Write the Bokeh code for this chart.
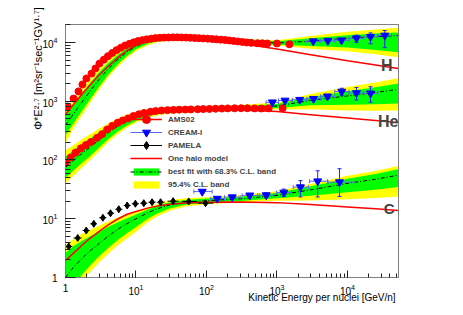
import math
from bokeh.plotting import figure
from bokeh.models import Range1d, LogTickFormatter, Legend, LegendItem, Label
from bokeh.embed import file_html
from bokeh.resources import INLINE

# ---------------- model curves (energy grid, GeV/n) ----------------
E_grid = [1, 1.3, 1.7, 2.2, 3, 4, 5.5, 7.5, 10, 15, 20, 30, 50, 100, 300, 1000, 3000, 1e4, 2.5e4, 5.2e4]

H_fit   = [390, 610, 950, 1450, 2350, 3500, 5100, 6900, 8600, 10500, 11400, 12000, 12100, 11600, 10300, 9800, 10500, 11800, 12600, 13100]
H_g_hi  = [577, 881, 1342, 2001, 3097, 4406, 6130, 8011, 9649, 11508, 12358, 12864, 12971, 12435, 11042, 10506, 11781, 13240, 14200, 14800]
H_g_lo  = [264, 422, 672, 1051, 1783, 2780, 4243, 5943, 7665, 9580, 10517, 11194, 11287, 10821, 9608, 9142, 8735, 8166, 7420, 6795]
H_y_hi  = [710, 1060, 1577, 2298, 3476, 4830, 6722, 8687, 10337, 12190, 12939, 13464, 13419, 12864, 11423, 10868, 12915, 15198, 16607, 17790]
H_y_lo  = [195, 351, 572, 915, 1589, 2536, 3869, 5481, 7155, 9044, 10044, 10695, 10911, 10460, 9288, 8837, 7784, 7108, 6316, 5589]
H_halo  = [600, 880, 1300, 1850, 2800, 3900, 5500, 7300, 8900, 10600, 11400, 11900, 11900, 11400, 9600, 7700, 6200, 4900, 4130, 3600]

He_fit  = [75, 98, 128, 163, 220, 290, 375, 460, 535, 620, 665, 700, 722, 740, 765, 830, 1030, 1230, 1410, 1590]
He_g_hi = [114, 145, 185, 230, 297, 374, 461, 547, 614, 696, 729, 759, 774, 793, 820, 900, 1182, 1478, 1734, 2002]
He_g_lo = [50, 66, 89, 115, 163, 225, 305, 387, 466, 553, 607, 646, 674, 690, 714, 766, 857, 870, 890, 915]
He_y_hi = [146, 178, 222, 271, 341, 419, 506, 592, 658, 737, 772, 795, 810, 830, 858, 953, 1327, 1738, 2085, 2463]
He_y_lo = [40, 54, 74, 98, 142, 201, 278, 357, 435, 521, 573, 617, 643, 660, 682, 723, 729, 692, 690, 694]
He_halo = [85, 112, 145, 185, 245, 310, 390, 470, 540, 615, 655, 690, 710, 720, 710, 665, 590, 520, 470, 435]

C_fit   = [1.0, 1.5, 2.1, 2.8, 3.8, 5.0, 6.6, 8.3, 10, 12.8, 14.8, 17.2, 19, 20.3, 21.8, 25, 31, 40, 47, 55]
C_g_hi  = [2.63, 3.44, 4.19, 4.98, 6.02, 7.23, 8.70, 10.2, 11.75, 14.5, 16.6, 19.1, 20.8, 22.0, 23.6, 27.4, 35.6, 48.1, 57.8, 69.2]
C_g_lo  = [0.447, 0.718, 1.10, 1.57, 2.29, 3.15, 4.36, 5.74, 7.25, 10.2, 12.3, 15.0, 17.3, 18.7, 20.1, 22.3, 24.6, 28.3, 31.0, 34.7]
C_y_hi  = [3.55, 4.53, 5.52, 6.41, 7.58, 8.89, 10.5, 11.7, 12.9, 15.7, 17.8, 20.7, 22.3, 23.3, 25.0, 29.4, 39.0, 54.0, 64.9, 78.6]
C_y_lo  = [0.316, 0.532, 0.836, 1.22, 1.82, 2.51, 3.54, 4.67, 6.02, 8.86, 11.0, 13.7, 16.2, 17.7, 19.0, 20.3, 20.5, 21.5, 22.5, 24.0]
C_halo  = [1.95, 2.6, 3.5, 4.6, 6.1, 7.8, 9.9, 11.9, 13.3, 15.3, 16.4, 17.7, 18.6, 19.1, 19.3, 18.8, 17.5, 15.9, 14.8, 13.8]

# ---------------- AMS02 ----------------
AMS_H_E = [1.07, 1.3, 1.53, 1.74, 1.98, 2.34, 2.66, 3.03, 3.5, 4.0, 4.6, 5.3, 6.1, 7.0, 8.1, 9.3, 10.7, 12.3,
           14.2, 16.4, 18.9, 21.8, 25.1, 28.9, 33.3, 38.4, 44.3, 51, 59, 68, 78, 90, 104, 120, 138, 159, 183,
           211, 243, 280, 323, 372, 430, 530, 620, 730, 1000, 1500]
AMS_H_F = [813, 1110, 1470, 1930, 2440, 2950, 3610, 4370, 5100, 5850, 6600, 7400, 8150, 8850, 9500, 10050,
           10550, 10950, 11300, 11600, 11850, 12000, 12100, 12150, 12200, 12200, 12150, 12100, 12000, 11900,
           11800, 11700, 11600, 11450, 11300, 11150, 11000, 10800, 10600, 10400, 10200, 10000, 9850, 9700,
           9650, 9600, 9600, 9300]
AMS_He_E = [1.0, 1.18, 1.39, 1.65, 1.95, 2.3, 2.8, 3.3, 3.9, 4.6, 5.5, 6.5, 7.7, 9.2, 11, 13, 16, 19, 23, 28,
            34, 41, 50, 60, 75, 90, 110, 135, 165, 200, 250, 310, 380, 480, 600, 760, 1200]
AMS_He_F = [91, 110, 134, 158, 180, 203, 238, 275, 330, 380, 430, 470, 510, 560, 600, 630, 660, 680, 695, 705,
            712, 718, 722, 726, 730, 735, 740, 745, 750, 755, 758, 760, 760, 755, 752, 755, 760]

# ---------------- CREAM-I ----------------
CR_H_E   = [3260, 5260, 8220, 13400, 21200, 33800]
CR_H_F   = [10500, 10700, 10900, 11800, 12500, 13150]
CR_H_ehi = [400, 500, 700, 1500, 2000, 2800]
CR_H_elo = [400, 500, 700, 1800, 3000, 5000]
CR_H_blo = [2600, 4100, 6600, 10500, 17000, 27000]
CR_H_bhi = [4100, 6600, 10500, 17000, 27000, 42000]

CR_He_E   = [860, 1300, 2100, 3300, 5200, 8300, 13400, 21200]
CR_He_F   = [960, 1030, 1060, 1100, 1210, 1460, 1380, 1360]
CR_He_ehi = [40, 40, 50, 60, 100, 200, 330, 400]
CR_He_elo = [40, 40, 50, 60, 100, 200, 330, 400]
CR_He_blo = [700, 1050, 1650, 2650, 4150, 6600, 10500, 17000]
CR_He_bhi = [1050, 1650, 2650, 4150, 6600, 10500, 17000, 27000]

CR_C_E   = [87, 142, 232, 411, 703, 1250, 2150, 3780, 7700]
CR_C_F   = [29, 22, 23.3, 25, 25.2, 28, 34.5, 43.5, 42]
CR_C_ehi = [2, 1.5, 1.5, 2, 2.5, 4, 10, 22, 29]
CR_C_elo = [2, 1.5, 1.5, 2, 2.5, 4, 11, 20, 18]
CR_C_blo = [66, 115, 180, 320, 560, 980, 1700, 2900, 5300]
CR_C_bhi = [120, 180, 300, 530, 900, 1600, 2800, 5200, 13000]

# ---------------- PAMELA (C) ----------------
PAM_E   = [1.11, 1.49, 1.97, 2.52, 3.39, 4.35, 5.7, 7.5, 9.8, 12.9, 16.9, 22.3, 33.6, 56, 97]
PAM_F   = [3.37, 4.7, 6.3, 8.2, 10.4, 12.4, 14.5, 16.8, 18.0, 18.4, 19.1, 19.1, 19.9, 19.7, 18.4]
PAM_err = [0.25, 0.3, 0.35, 0.4, 0.45, 0.5, 0.6, 0.65, 0.7, 0.75, 0.8, 0.85, 1.0, 1.3, 1.8]
PAM_blo = [1.0, 1.3, 1.75, 2.25, 3.0, 3.9, 5.1, 6.7, 8.7, 11.5, 15, 20, 28, 45, 75]
PAM_bhi = [1.25, 1.7, 2.2, 2.8, 3.8, 4.9, 6.4, 8.4, 11, 14.5, 19, 25.5, 40, 70, 125]

LEGEND_LABELS = ["AMS02", "CREAM-I", "PAMELA", "One halo model",
                 "best fit with 68.3% C.L. band", "95.4% C.L. band"]
SPECIES = ["H", "He", "C"]
X_TITLE = "Kinetic Energy per nuclei [GeV/n]"
Y_TITLE = "\u03a6*E\u00b2\u00b7\u2077 [m\u00b2sr\u207b\u00b9sec\u207b\u00b9GV\u00b9\u00b7\u2077]"
EMSP = "\u2003"   # em spaces push the centred axis titles to the frame's end, as in ROOT

FONT = "Liberation Sans"
YELLOW = "#ffff00"
GREEN = "#00ff00"

p = figure(frame_width=333, frame_height=253, x_axis_type="log", y_axis_type="log",
           x_range=Range1d(1, 5.29e4), y_range=Range1d(1, 2.02e4),
           output_backend="svg", toolbar_location=None,
           min_border_left=65, min_border_right=10, min_border_top=24, min_border_bottom=10)
p.xgrid.visible = False
p.ygrid.visible = False
p.outline_line_color = "#808080"
p.outline_line_width = 1
p.background_fill_color = "white"

for ax in (p.xaxis[0], p.yaxis[0]):
    ax.formatter = LogTickFormatter(min_exponent=1)
    ax.major_tick_out = 0
    ax.minor_tick_out = 0
    ax.axis_line_color = "#808080"
    ax.major_tick_line_color = "#222222"
    ax.minor_tick_line_color = "#222222"
    ax.major_label_text_font = FONT
    ax.major_label_text_font_size = "10px"
    ax.major_label_text_color = "black"
    ax.axis_label_text_font = FONT
    ax.axis_label_text_font_style = "normal"
    ax.axis_label_text_color = "black"
p.yaxis.major_tick_in = 10
p.yaxis.minor_tick_in = 5
p.xaxis.major_tick_in = 7
p.xaxis.minor_tick_in = 4
p.yaxis.major_label_standoff = 8
p.xaxis.major_label_standoff = 6

p.yaxis[0].axis_label = EMSP * 15 + Y_TITLE
p.yaxis[0].axis_label_text_font_size = "11px"
p.yaxis[0].axis_label_standoff = -5
p.xaxis[0].axis_label = EMSP * 18 + X_TITLE
p.xaxis[0].axis_label_text_font_size = "10px"
p.xaxis[0].axis_label_standoff = -6

groups = [
    (H_fit, H_g_hi, H_g_lo, H_y_hi, H_y_lo, H_halo),
    (He_fit, He_g_hi, He_g_lo, He_y_hi, He_y_lo, He_halo),
    (C_fit, C_g_hi, C_g_lo, C_y_hi, C_y_lo, C_halo),
]
yb, gb, fl, hl = [], [], [], []
for fit, ghi, glo, yhi, ylo, halo in groups:
    yb.append(p.varea(x=E_grid, y1=ylo, y2=yhi, fill_color=YELLOW))
    gb.append(p.varea(x=E_grid, y1=glo, y2=ghi, fill_color=GREEN))
for fit, ghi, glo, yhi, ylo, halo in groups:
    fl.append(p.line(E_grid, fit, line_color="black", line_width=1, line_dash="4 2 1 2"))
    hl.append(p.line(E_grid, halo, line_color="red", line_width=1.5))

# CREAM points
def cream(E, F, ehi, elo, blo, bhi):
    top = [f + e for f, e in zip(F, ehi)]
    bot = [f - e for f, e in zip(F, elo)]
    hbar = p.segment(x0=blo, y0=F, x1=bhi, y1=F, line_color="#5566ff", line_width=1)
    p.segment(x0=E, y0=bot, x1=E, y1=top, line_color="#2222ff", line_width=1)
    p.scatter(x=E, y=top, marker="dash", size=4, line_color="#2222ff")
    p.scatter(x=E, y=bot, marker="dash", size=4, line_color="#2222ff")
    p.scatter(x=blo, y=F, marker="dash", angle=math.pi / 2, size=4, line_color="#5566ff")
    p.scatter(x=bhi, y=F, marker="dash", angle=math.pi / 2, size=4, line_color="#5566ff")
    mk = p.scatter(x=E, y=F, marker="inverted_triangle", size=8, fill_color="blue", line_color="blue")
    return hbar, mk

cr_bar, cr_mk = cream(CR_H_E, CR_H_F, CR_H_ehi, CR_H_elo, CR_H_blo, CR_H_bhi)
cream(CR_He_E, CR_He_F, CR_He_ehi, CR_He_elo, CR_He_blo, CR_He_bhi)
cream(CR_C_E, CR_C_F, CR_C_ehi, CR_C_elo, CR_C_blo, CR_C_bhi)

# PAMELA points
pam_top = [f + e for f, e in zip(PAM_F, PAM_err)]
pam_bot = [f - e for f, e in zip(PAM_F, PAM_err)]
pm_bar = p.segment(x0=PAM_blo, y0=PAM_F, x1=PAM_bhi, y1=PAM_F, line_color="black", line_width=1)
p.segment(x0=PAM_E, y0=pam_bot, x1=PAM_E, y1=pam_top, line_color="black", line_width=1)
pm_mk = p.scatter(x=PAM_E, y=PAM_F, marker="diamond", size=7, fill_color="black", line_color="black")

# AMS02 points
ams_mk = p.scatter(x=AMS_H_E, y=AMS_H_F, marker="circle", size=7, fill_color="red", line_color="red")
p.scatter(x=AMS_He_E, y=AMS_He_F, marker="circle", size=7, fill_color="red", line_color="red")

# legends: one per entry so that the rows keep the reference's 13px pitch
leg_style = dict(padding=0, margin=0, border_line_alpha=0, background_fill_alpha=0,
                 glyph_width=32, label_standoff=6,
                 label_text_font=FONT, label_text_font_size="8px", label_text_font_style="bold")
entries = [
    (LEGEND_LABELS[0], [hl[0], ams_mk], 148, 20),
    (LEGEND_LABELS[1], [cr_bar, cr_mk], 135, 20),
    (LEGEND_LABELS[2], [pm_bar, pm_mk], 122, 20),
    (LEGEND_LABELS[3], [hl[0]], 109, 20),
    (LEGEND_LABELS[4], [gb[0], fl[0]], 101, 9),
    (LEGEND_LABELS[5], [yb[0]], 88, 9),
]
for lab, rends, ly, gh in entries:
    p.add_layout(Legend(items=[LegendItem(label=lab, renderers=rends)], location=(65, ly),
                        glyph_height=gh, label_height=gh, **leg_style))

# species labels (frame-relative screen units)
for txt, sx, sy, fs in [(SPECIES[0], 327, 212, "16px"), (SPECIES[1], 333, 156, "16px"),
                        (SPECIES[2], 329, 69, "15px")]:
    p.add_layout(Label(x=sx, y=sy, x_units="screen", y_units="screen", text=txt,
                       text_align="right", text_baseline="alphabetic",
                       text_font=FONT, text_font_size=fs, text_font_style="bold"))

open("out.html", "w").write(file_html(p, INLINE))
